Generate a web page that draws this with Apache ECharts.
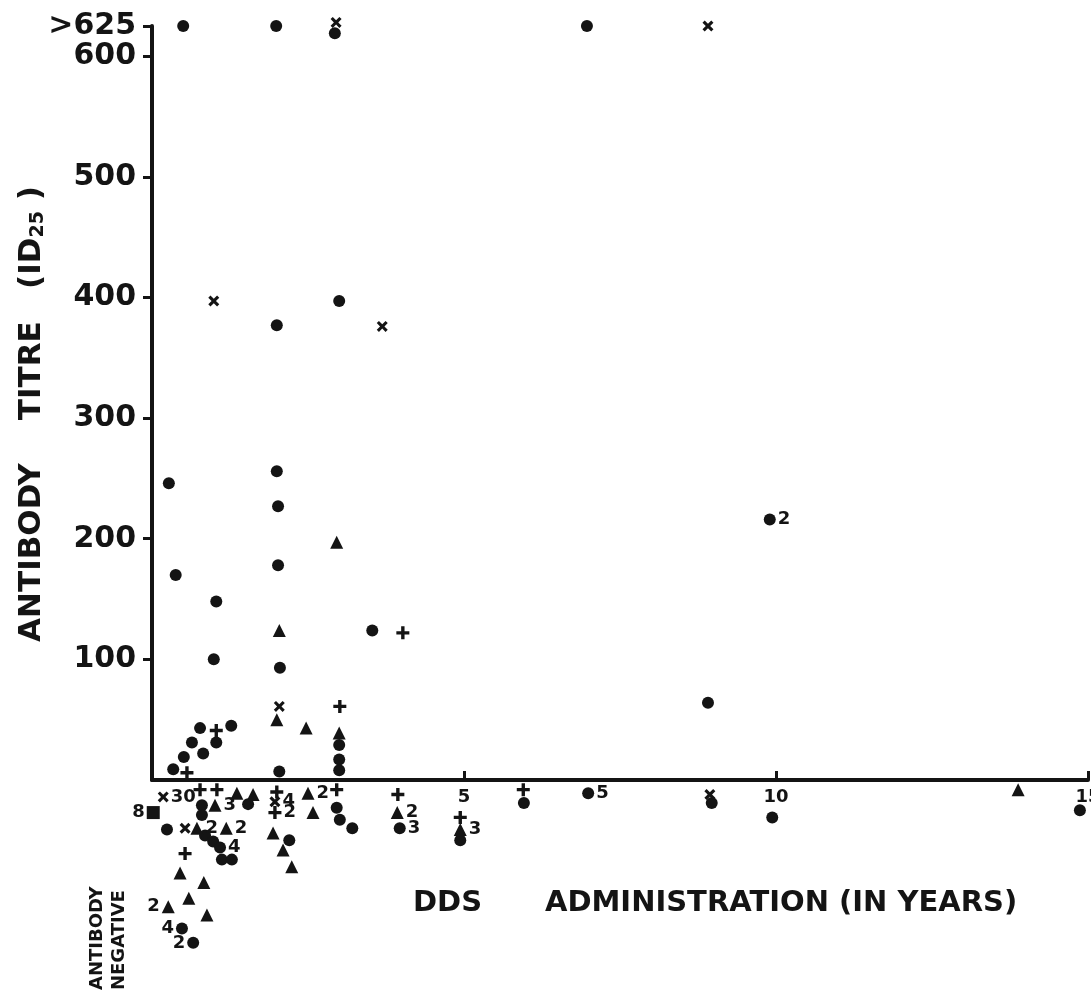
<!DOCTYPE html>
<html><head><meta charset="utf-8">
<script src="https://cdn.jsdelivr.net/npm/echarts@6/dist/echarts.min.js"></script>
<style>html,body{margin:0;padding:0;background:#fff}#c{width:1091px;height:994px}</style>
</head><body><div id="c"></div>
<script>
// Each point: [DDS years, antibody titre (ID25), count label, label side]
// Titres > 625 are plotted at the top of the scale.
const circles = [
  [0.50,625],[1.99,625],[2.93,619],[6.97,625],
  [3.00,397],[2.00,377],
  [0.27,246],[2.00,256],[2.02,227],[2.02,178],[0.38,170],[1.03,148],
  [3.53,124],[0.99,100],[2.05,93],[9.90,216,'2'],[8.91,64],
  [1.27,45],[1.03,31],[0.77,43],[0.64,31],[0.82,22],[0.51,19],[0.34,9],
  [2.04,7],[3.00,29],[3.00,17],[3.00,8]
];
const triangles = [
  [2.96,197],[2.04,124],[2.00,50],[2.47,43],[3.00,39]
];
const crosses = [
  [8.91,625],[2.95,628],[0.99,397],[3.69,376],[2.04,61]
];
const pluses = [
  [4.02,122],[3.01,61],[1.03,41],[0.56,6]
];
// Antibody-negative subjects, drawn in offset rows below the axis (negative offsets)
const negCircles = [
  [0.24,-41],[0.80,-21],[0.80,-29],[1.54,-20],[0.85,-46],[0.98,-51],[1.09,-56,'4'],
  [1.12,-66],[1.28,-66],[0.48,-123,'4','left'],[0.66,-135,'2','left'],
  [2.20,-50],[2.96,-23],[3.01,-33],[3.21,-40],
  [3.97,-40,'3'],[4.94,-50],[5.96,-19],[6.99,-11,'5'],[8.97,-19],[9.94,-31],[14.87,-25]
];
const negTriangles = [
  [0.72,-40,'2'],[1.01,-21,'3'],[1.36,-11],[1.62,-12],[1.19,-40,'2'],
  [0.45,-77],[0.83,-85],[0.59,-98],[0.26,-105,'2','left'],[0.88,-112],
  [1.94,-44],[2.10,-58],[2.24,-72],[2.50,-11,'2'],[2.58,-27],
  [3.93,-27,'2'],[4.94,-41,'3'],[13.88,-8]
];
const negCrosses = [
  [0.18,-14,'30'],[0.53,-40],[1.97,-18,'4'],[8.94,-12]
];
const negPluses = [
  [0.77,-8],[1.04,-8],[0.53,-61],[2.00,-10],[1.97,-27,'2'],[2.96,-8],
  [3.94,-12],[4.94,-31],[5.95,-8]
];
const negSquares = [
  [0.02,-27,'8','left']
];
const yTickValues = [100,200,300,400,500,600,625];
const xMin = 0, xMax = 15, xInterval = 5;

const FONT = 'DejaVu Sans';
const INK = '#141414';
const crossPath = 'path://M2,0 L5,3 L8,0 L10,2 L7,5 L10,8 L8,10 L5,7 L2,10 L0,8 L3,5 L0,2 Z';
const plusPath = 'path://M3.7,0 H6.3 V3.7 H10 V6.3 H6.3 V10 H3.7 V6.3 H0 V3.7 H3.7 Z';

function toData(arr) {
  return arr.map(p => {
    const item = { value: [p[0], p[1]] };
    if (p[2]) {
      item.label = { show: true, formatter: p[2], position: p[3] || 'right', distance: 2,
        fontSize: 18, fontWeight: 'bold', fontFamily: FONT, color: INK };
    }
    return item;
  });
}
function series(name, symbol, size, arr) {
  return { name, type: 'scatter', symbol, symbolSize: size, clip: false,
    itemStyle: { color: INK, opacity: 1 }, data: toData(arr), emphasis: { disabled: true } };
}

const chart = echarts.init(document.getElementById('c'));
chart.setOption({
  animation: false,
  backgroundColor: '#fff',
  grid: { left: 152, right: 3, top: 26, bottom: 214, containLabel: false, outerBoundsMode: 'none' },
  xAxis: {
    type: 'value', min: xMin, max: xMax, interval: xInterval,
    splitLine: { show: false },
    axisLine: { onZero: false, lineStyle: { color: INK, width: 4 } },
    axisTick: { inside: true, length: 9, lineStyle: { color: INK, width: 3 } },
    axisLabel: { formatter: v => v === 0 ? '' : String(v), showMaxLabel: true,
      fontSize: 18, fontWeight: 'bold', fontFamily: FONT, color: INK, margin: 8 }
  },
  yAxis: {
    type: 'value', min: 0, max: 625,
    splitLine: { show: false },
    axisLine: { show: true, lineStyle: { color: INK, width: 4 } },
    axisTick: { show: true, customValues: yTickValues, length: 9, lineStyle: { color: INK, width: 3 } },
    axisLabel: { customValues: yTickValues, showMaxLabel: true,
      formatter: v => v === 625 ? '>625' : String(v),
      fontSize: 30, fontWeight: 'bold', fontFamily: FONT, color: INK, margin: 16 }
  },
  series: [
    series('circle', 'circle', 12, circles.concat(negCircles)),
    series('triangle', 'triangle', 13, triangles.concat(negTriangles)),
    series('cross', crossPath, 11, crosses.concat(negCrosses)),
    series('plus', plusPath, 13, pluses.concat(negPluses)),
    series('square', 'rect', 13, negSquares)
  ],
  graphic: [
    { type: 'text', x: 32, y: 414, rotation: Math.PI / 2,
      style: { text: '{a|ANTIBODY    TITRE   (ID}{s|25}{a| )}', align: 'center', verticalAlign: 'middle',
        rich: { a: { fontSize: 31, fontWeight: 'bold', fontFamily: FONT, fill: INK },
                s: { fontSize: 19, fontWeight: 'bold', fontFamily: FONT, fill: INK, verticalAlign: 'bottom', padding: [12, 0, 0, 0] } } } },
    { type: 'text', left: 413, top: 889,
      style: { text: 'DDS', fontSize: 29, fontWeight: 'bold', fontFamily: FONT, fill: INK } },
    { type: 'text', left: 545, top: 889,
      style: { text: 'ADMINISTRATION (IN YEARS)', fontSize: 29, fontWeight: 'bold', fontFamily: FONT, fill: INK } },
    { type: 'text', x: 108, y: 990, rotation: Math.PI / 2,
      style: { text: 'ANTIBODY\nNEGATIVE', align: 'left', verticalAlign: 'middle', lineHeight: 22,
        fontSize: 18, fontWeight: 'bold', fontFamily: FONT, fill: INK } }
  ]
});
</script></body></html>
